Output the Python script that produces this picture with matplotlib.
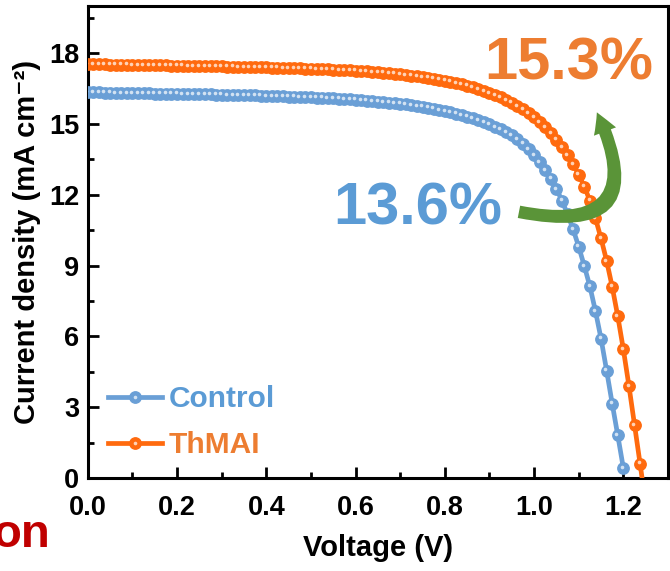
import matplotlib
matplotlib.use("Agg")
import matplotlib.pyplot as plt
from matplotlib.ticker import MultipleLocator
from matplotlib.patches import FancyArrowPatch
from matplotlib.legend_handler import HandlerTuple
import matplotlib.transforms as mtransforms

plt.rcParams['font.family'] = ['Liberation Sans', 'DejaVu Sans']
plt.rcParams['font.weight'] = 'bold'

# voltage sweep (V)
voltage = [
    0.0, 0.0125, 0.025, 0.0375, 0.05, 0.0625, 0.075, 0.0875,
    0.1, 0.1125, 0.125, 0.1375, 0.15, 0.1625, 0.175, 0.1875,
    0.2, 0.2125, 0.225, 0.2375, 0.25, 0.2625, 0.275, 0.2875,
    0.3, 0.3125, 0.325, 0.3375, 0.35, 0.3625, 0.375, 0.3875,
    0.4, 0.4125, 0.425, 0.4375, 0.45, 0.4625, 0.475, 0.4875,
    0.5, 0.5125, 0.525, 0.5375, 0.55, 0.5625, 0.575, 0.5875,
    0.6, 0.6125, 0.625, 0.6375, 0.65, 0.6625, 0.675, 0.6875,
    0.7, 0.7125, 0.725, 0.7375, 0.75, 0.7625, 0.775, 0.7875,
    0.8, 0.8125, 0.825, 0.8375, 0.85, 0.8625, 0.875, 0.8875,
    0.9, 0.9125, 0.925, 0.9375, 0.95, 0.9625, 0.975, 0.9875,
    1.0, 1.0125, 1.025, 1.0375, 1.05, 1.0625, 1.075, 1.0875,
    1.1, 1.1125, 1.125, 1.1375, 1.15, 1.1625, 1.175, 1.1875,
    1.2, 1.2125, 1.225, 1.2375, 1.25,
]

# current density (mA cm-2)
j_control = [
    16.35, 16.34, 16.34, 16.33, 16.33, 16.32, 16.32, 16.31,
    16.31, 16.30, 16.30, 16.30, 16.29, 16.29, 16.28, 16.28,
    16.28, 16.27, 16.27, 16.26, 16.26, 16.25, 16.25, 16.24,
    16.24, 16.23, 16.23, 16.22, 16.22, 16.21, 16.21, 16.20,
    16.19, 16.19, 16.18, 16.17, 16.16, 16.16, 16.15, 16.14,
    16.13, 16.12, 16.11, 16.10, 16.09, 16.07, 16.06, 16.04,
    16.03, 16.01, 15.99, 15.97, 15.95, 15.93, 15.91, 15.88,
    15.86, 15.83, 15.80, 15.77, 15.73, 15.69, 15.65, 15.60,
    15.55, 15.50, 15.44, 15.38, 15.31, 15.24, 15.16, 15.07,
    14.98, 14.88, 14.77, 14.65, 14.52, 14.36, 14.16, 13.93,
    13.67, 13.38, 13.05, 12.68, 12.25, 11.75, 11.17, 10.53,
    9.80, 8.98, 8.12, 7.07, 5.90, 4.55, 3.15, 1.80,
    0.42,
]

j_thmai = [
    17.54, 17.54, 17.53, 17.53, 17.52, 17.52, 17.51, 17.51,
    17.50, 17.50, 17.49, 17.49, 17.49, 17.48, 17.48, 17.47,
    17.47, 17.47, 17.46, 17.46, 17.45, 17.45, 17.45, 17.44,
    17.44, 17.43, 17.43, 17.42, 17.42, 17.41, 17.41, 17.40,
    17.40, 17.39, 17.39, 17.38, 17.38, 17.37, 17.36, 17.35,
    17.34, 17.33, 17.32, 17.31, 17.30, 17.29, 17.28, 17.27,
    17.26, 17.24, 17.23, 17.21, 17.19, 17.17, 17.15, 17.13,
    17.11, 17.08, 17.05, 17.02, 16.99, 16.96, 16.92, 16.88,
    16.84, 16.79, 16.74, 16.68, 16.62, 16.55, 16.48, 16.40,
    16.32, 16.23, 16.13, 16.02, 15.90, 15.77, 15.63, 15.47,
    15.29, 15.09, 14.87, 14.62, 14.34, 14.03, 13.68, 13.29,
    12.85, 12.35, 11.75, 11.00, 10.15, 9.20, 8.10, 6.85,
    5.45, 3.90, 2.25, 0.60, -1.10,
]

labels = ['Control', 'ThMAI']
line_colors = ['#6A9FD6', '#FF6A0E']
text_colors = ['#5B9BD5', '#ED7D31']
pce_labels = ['13.6%', '15.3%']

fig = plt.figure(figsize=(6.7, 5.71), dpi=100)
ax = fig.add_axes([0.131, 0.163, 0.866, 0.8265])

# highlight dot on each marker, shifted up-left
shine = mtransforms.offset_copy(ax.transData, fig=fig, x=-1.3, y=1.3, units='dots')

handles = []
for v, j, c in [(voltage[:len(j_control)], j_control, line_colors[0]),
                (voltage[:len(j_thmai)], j_thmai, line_colors[1])]:
    ln, = ax.plot(v, j, '-o', color=c, lw=3.4, ms=8.2, mec=c, mfc=c, zorder=3)
    hl, = ax.plot(v, j, 'o', color='white', ms=2.6, alpha=0.7, mew=0,
                  transform=shine, zorder=4)
    handles.append((ln, hl))

ax.set_xlim(0, 1.3)
ax.set_ylim(0, 20)
ax.xaxis.set_minor_locator(MultipleLocator(0.1))
ax.yaxis.set_minor_locator(MultipleLocator(1.5))
ax.set_yticks([0, 3, 6, 9, 12, 15, 18])
ax.set_xticks([0.0, 0.2, 0.4, 0.6, 0.8, 1.0, 1.2])
ax.set_xticklabels(['0.0', '0.2', '0.4', '0.6', '0.8', '1.0', '1.2'])

ax.tick_params(which='major', direction='in', length=8, width=2,
               labelsize=19.5, pad=6)
ax.tick_params(axis='x', which='major', pad=12)
ax.tick_params(which='minor', direction='in', length=4.5, width=2)
for sp in ax.spines.values():
    sp.set_linewidth(2.2)

ax.set_xlabel('Voltage (V)', fontsize=21, fontweight='bold', labelpad=10)
ax.set_ylabel('Current density (mA cm⁻²)', fontsize=21,
              fontweight='bold', labelpad=6)

leg = ax.legend(handles, labels, handler_map={tuple: HandlerTuple(ndivide=1)},
                loc='center left', bbox_to_anchor=(0.014, 0.118), frameon=False,
                handlelength=1.8, handletextpad=0.25, borderaxespad=0,
                labelspacing=0.62, prop={'weight': 'bold', 'size': 21.5})
for t, c in zip(leg.get_texts(), text_colors):
    t.set_color(c)

# efficiency labels
ax.text(0.74, 10.75, pce_labels[0], color=text_colors[0], fontsize=43,
        fontweight='bold', ha='center', va='baseline', zorder=5)
ax.text(1.077, 16.9, pce_labels[1], color=text_colors[1], fontsize=43,
        fontweight='bold', ha='center', va='baseline', zorder=5)

arrow = FancyArrowPatch((0.96, 11.3), (1.138, 15.6),
                        connectionstyle='arc3,rad=1.0',
                        arrowstyle='simple,head_length=15,head_width=17,tail_width=9',
                        color='#5A9438', lw=0, zorder=6)
ax.add_patch(arrow)

# cropped text from neighbouring panel
fig.text(50 / 670, 1 - 547 / 571, 'on', color='#C00000', fontsize=34,
         fontweight='bold', ha='right', va='baseline')

fig.savefig('out.png', dpi=100)
